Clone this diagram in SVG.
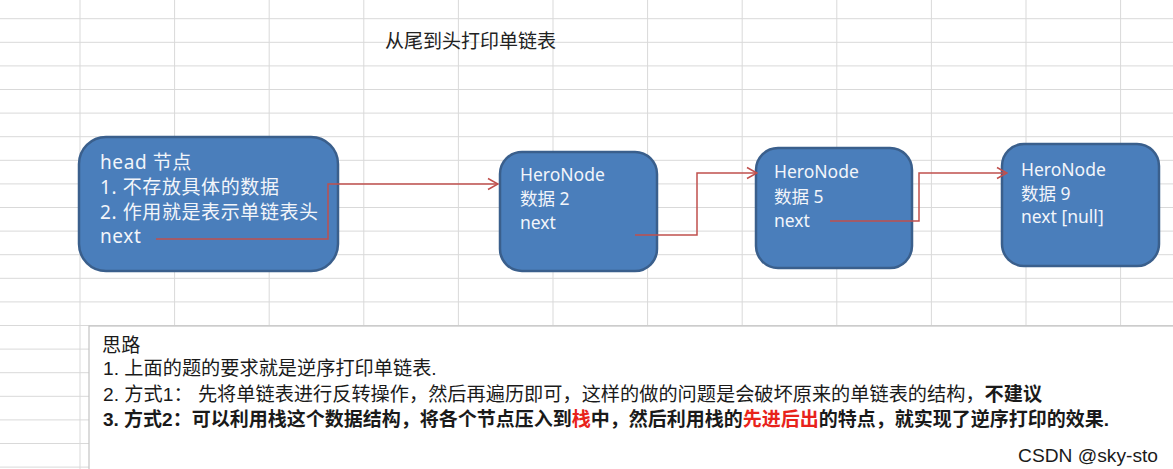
<svg xmlns="http://www.w3.org/2000/svg" width="1173" height="469" viewBox="0 0 1173 469">
<style>
.grid line{stroke:#d9d9d9;stroke-width:1}
.node rect{fill:#4a7ebb;stroke:#3a5f8c;stroke-width:2.5}
.node text{fill:#f2f5fa;font-family:"Noto Sans","Noto Sans CJK SC",sans-serif;font-size:17.5px}
.head text{font-size:19px;letter-spacing:0.6px}
.conn path{fill:none;stroke:#c0504d;stroke-width:1.5}
.note text{font-family:"Liberation Sans","Noto Sans CJK SC",sans-serif;font-size:19.2px;fill:#1a1a1a}
.note text.b{font-size:19px}
.b{font-weight:bold}
.r{fill:#e8231b}
</style>
<defs>
<marker id="arr" markerUnits="userSpaceOnUse" markerWidth="12" markerHeight="14" refX="11" refY="6" orient="auto" viewBox="0 0 12 12">
<path d="M1,0.5 L11,6 L1,11.5" fill="none" stroke="#c0504d" stroke-width="1.5"/>
</marker>
</defs>
<rect x="0" y="0" width="1173" height="469" fill="#ffffff"/>
<g class="grid" id="grid">
<line x1="0" y1="18.7" x2="1173" y2="18.7"/>
<line x1="0" y1="42.3" x2="1173" y2="42.3"/>
<line x1="0" y1="65.9" x2="1173" y2="65.9"/>
<line x1="0" y1="89.5" x2="1173" y2="89.5"/>
<line x1="0" y1="113.1" x2="1173" y2="113.1"/>
<line x1="0" y1="136.7" x2="1173" y2="136.7"/>
<line x1="0" y1="160.3" x2="1173" y2="160.3"/>
<line x1="0" y1="183.9" x2="1173" y2="183.9"/>
<line x1="0" y1="207.5" x2="1173" y2="207.5"/>
<line x1="0" y1="231.1" x2="1173" y2="231.1"/>
<line x1="0" y1="254.7" x2="1173" y2="254.7"/>
<line x1="0" y1="278.3" x2="1173" y2="278.3"/>
<line x1="0" y1="301.9" x2="1173" y2="301.9"/>
<line x1="0" y1="325.5" x2="1173" y2="325.5"/>
<line x1="0" y1="349.1" x2="89" y2="349.1"/>
<line x1="0" y1="372.7" x2="89" y2="372.7"/>
<line x1="0" y1="396.3" x2="89" y2="396.3"/>
<line x1="0" y1="419.9" x2="89" y2="419.9"/>
<line x1="0" y1="443.5" x2="89" y2="443.5"/>
<line x1="0" y1="467.1" x2="89" y2="467.1"/>
<line x1="80" y1="0" x2="80" y2="469"/>
<line x1="174.6" y1="0" x2="174.6" y2="326"/>
<line x1="269.2" y1="0" x2="269.2" y2="326"/>
<line x1="363.8" y1="0" x2="363.8" y2="326"/>
<line x1="458.4" y1="0" x2="458.4" y2="326"/>
<line x1="553" y1="0" x2="553" y2="326"/>
<line x1="647.6" y1="0" x2="647.6" y2="326"/>
<line x1="742.2" y1="0" x2="742.2" y2="326"/>
<line x1="836.8" y1="0" x2="836.8" y2="326"/>
<line x1="931.4" y1="0" x2="931.4" y2="326"/>
<line x1="1026" y1="0" x2="1026" y2="326"/>
<line x1="1120.6" y1="0" x2="1120.6" y2="326"/>
</g>
<text x="385" y="48" font-family="Noto Sans CJK SC, sans-serif" font-size="19" fill="#222">从尾到头打印单链表</text>
<g id="head" class="node head">
<rect x="79" y="137" width="259" height="134" rx="27" ry="27"/>
<text x="100" y="169">head 节点</text>
<text x="100" y="194">1. 不存放具体的数据</text>
<text x="100" y="219">2. 作用就是表示单链表头</text>
<text x="100" y="243">next</text>
</g>
<g id="node2" class="node">
<rect x="500" y="152" width="157" height="119" rx="22" ry="22"/>
<text x="520" y="181">HeroNode</text>
<text x="520" y="205">数据 2</text>
<text x="520" y="229">next</text>
</g>
<g id="node5" class="node">
<rect x="756" y="148" width="156" height="120" rx="22" ry="22"/>
<text x="774" y="178">HeroNode</text>
<text x="774" y="203">数据 5</text>
<text x="774" y="227">next</text>
</g>
<g id="node9" class="node">
<rect x="1002" y="144" width="157" height="122" rx="22" ry="22"/>
<text x="1021" y="176">HeroNode</text>
<text x="1021" y="200">数据 9</text>
<text x="1021" y="223">next [null]</text>
</g>
<g id="connectors" class="conn">
<path d="M156,239 H328 V184 H498" marker-end="url(#arr)"/>
<path d="M635,235 H697 V173 H757" marker-end="url(#arr)"/>
<path d="M830,221 H919 V173 H1007" marker-end="url(#arr)"/>
</g>
<g id="notes" class="note">
<rect x="89" y="326" width="1090" height="150" fill="#ffffff" stroke="#c4c4c4" stroke-width="1.2"/>
<text x="102" y="352">思路</text>
<text x="103" y="375">1. 上面的题的要求就是逆序打印单链表.</text>
<text x="103" y="401">2. 方式1： 先将单链表进行反转操作，然后再遍历即可，这样的做的问题是会破坏原来的单链表的结构，<tspan class="b">不建议</tspan></text>
<text x="103" y="426" class="b">3. 方式2：可以利用栈这个数据结构，将各个节点压入到<tspan class="r">栈</tspan>中，然后利用栈的<tspan class="r">先进后出</tspan>的特点，就实现了逆序打印的效果.</text>
<text x="1158" y="462" text-anchor="end" font-family="Liberation Sans, sans-serif" font-size="17" fill="#a8a8a8">CSDN @sky-sto</text>
</g>
</svg>
